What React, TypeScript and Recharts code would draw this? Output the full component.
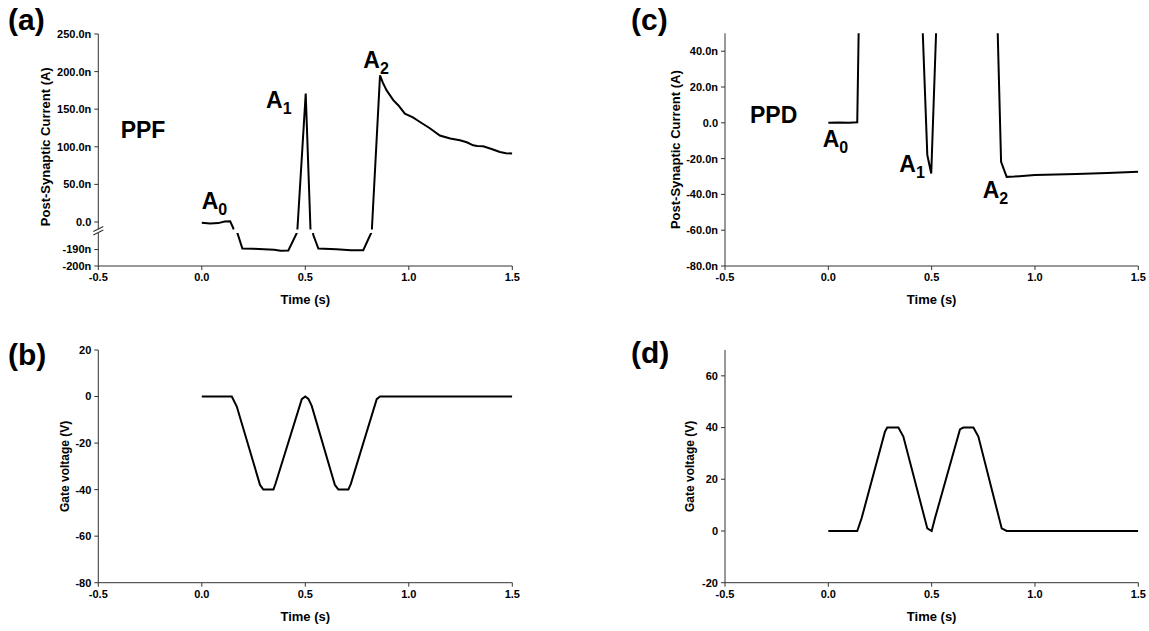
import { LineChart, Line, XAxis, YAxis, Label, ReferenceDot } from 'recharts';

const FONT = '"Liberation Sans", Arial, Helvetica, sans-serif';
const INK = '#000';
const AXIS = '#333';

// (a) PPF post-synaptic current, nA (axis is broken between -180n and -10n)
const ppfTime = [
  0, 0.04, 0.08, 0.11, 0.137, 0.152, 0.172, 0.196, 0.25, 0.3, 0.35, 0.38, 0.418, 0.459, 0.462,
  0.502, 0.525, 0.538, 0.563, 0.65, 0.72, 0.78, 0.818, 0.822, 0.861, 0.875, 0.893, 0.925, 0.95,
  0.981, 1.02, 1.054, 1.1, 1.15, 1.2, 1.247, 1.28, 1.311, 1.33, 1.359, 1.4, 1.44, 1.47, 1.5,
];
const ppfCurrent = [
  -1, -2, -1.5, 0.5, 1, -8, -180, -189.4, -189.6, -189.8, -190.2, -190.8, -190.6, -180, -9,
  170.7, -9, -181, -189.4, -189.8, -190.5, -190.4, -180, -8, 195, 185, 175, 162, 155,
  144, 139, 133, 125, 115, 111, 108.6, 106, 102, 101, 100.6, 97, 93, 91.5, 91,
];

// (b) PPF gate voltage, V
const ppfGateTime = [0, 0.145, 0.169, 0.281, 0.297, 0.346, 0.356, 0.483, 0.5, 0.515, 0.531, 0.643, 0.66, 0.708, 0.72, 0.845, 0.861, 1.5];
const ppfGate = [0, 0, -4.3, -37.9, -40, -40, -37.5, -1.1, 0, -1, -4, -38, -40, -40, -37.5, -1.1, 0, 0];

// (c) PPD post-synaptic current, nA (peaks run off the top of the axis)
const ppdTime = [0, 0.05, 0.1, 0.14, 0.148, 0.3, 0.45, 0.479, 0.498, 0.53, 0.67, 0.81, 0.836, 0.863, 0.9, 1.0, 1.2, 1.35, 1.5];
const ppdCurrent = [0, 0.2, 0, 0.3, 60, 85, 72, -18, -28.3, 79, 90, 93, -21.8, -30.2, -30, -29.2, -28.6, -28, -27.4];

// (d) PPD gate voltage, V
const ppdGateTime = [0, 0.14, 0.161, 0.274, 0.285, 0.339, 0.363, 0.479, 0.5, 0.516, 0.637, 0.653, 0.702, 0.726, 0.839, 0.863, 1.5];
const ppdGate = [0, 0, 4.9, 38.4, 40, 40, 36.5, 1, 0, 4.9, 39.3, 40, 40, 36.5, 1, 0, 0];

const timeTicks = [-0.5, 0, 0.5, 1, 1.5];
const ppfUpperTicks = [0, 50, 100, 150, 200, 250];
const ppfLowerTicks = [-200, -190];
const ppfGateTicks = [-80, -60, -40, -20, 0, 20];
const ppdTicks = [-80, -60, -40, -20, 0, 20, 40];
const ppdGateTicks = [-20, 0, 20, 40, 60];

const toRows = (t: number[], v: number[]) => t.map((x, i) => ({ t: x, v: v[i] }));

const ppfRows = toRows(ppfTime, ppfCurrent);
const ppfGateRows = toRows(ppfGateTime, ppfGate);
const ppdRows = toRows(ppdTime, ppdCurrent);
const ppdGateRows = toRows(ppdGateTime, ppdGate);

const tickStyle = { fontSize: 11, fontWeight: 700, fill: INK, fontFamily: FONT };
const titleStyle = { fontWeight: 700, fill: INK, fontFamily: FONT };

const fmtTime = (v: number) => v.toFixed(1);
const fmtNano = (v: number) => (v === 0 ? '0.0' : `${v.toFixed(1)}n`);

const axisCommon = {
  stroke: AXIS,
  tick: tickStyle,
  tickSize: 4,
  tickMargin: 3,
  interval: 0 as const,
  allowDataOverflow: true,
};

function timeAxis(labelOffset: number, height: number) {
  return (
    <XAxis
      {...axisCommon}
      type="number"
      dataKey="t"
      domain={[-0.5, 1.5]}
      ticks={timeTicks}
      tickFormatter={fmtTime}
      height={height}
    >
      <Label value="Time (s)" position="insideBottom" offset={labelOffset} style={{ ...titleStyle, fontSize: 13 }} />
    </XAxis>
  );
}

function trace() {
  return <Line type="linear" dataKey="v" stroke={INK} strokeWidth={2} dot={false} isAnimationActive={false} />;
}

// two short slashes where the PPF current axis is broken
function AxisBreak(props: any) {
  const { cx, cy } = props;
  if (cx == null || cy == null) return null;
  return (
    <g stroke={AXIS} strokeWidth={1.2}>
      <line x1={cx - 5} y1={cy + 2} x2={cx + 5} y2={cy - 3} />
      <line x1={cx - 5} y1={cy - 1.5} x2={cx + 5} y2={cy - 6.5} />
    </g>
  );
}

function Sub({ x, y, main, sub }: { x: number; y: number; main: string; sub: string }) {
  return (
    <text x={x} y={y} fontSize={23} fontWeight={700} fill={INK} fontFamily={FONT}>
      {main}
      <tspan fontSize={16} dy={6}>{sub}</tspan>
    </text>
  );
}

export default function App() {
  return (
    <div style={{ position: 'absolute', left: 0, top: 0, width: 1149, height: 631, background: '#fff', overflow: 'hidden' }}>
      {/* (a) upper part of broken axis */}
      <div style={{ position: 'absolute', left: 0, top: 0 }}>
        <LineChart width={540} height={240} data={ppfRows} margin={{ top: 34, right: 27.7, bottom: 10.5, left: 0 }}>
          <XAxis type="number" dataKey="t" domain={[-0.5, 1.5]} hide allowDataOverflow />
          <YAxis
            {...axisCommon}
            width={98.3}
            domain={[-10, 250]}
            ticks={ppfUpperTicks}
            tickFormatter={fmtNano}
          >
            <Label
              value="Post-Synaptic Current (A)"
              angle={-90}
              position="insideLeft"
              offset={45}
              dy={15}
              style={{ ...titleStyle, fontSize: 13, textAnchor: 'middle' }}
            />
          </YAxis>
          {trace()}
        </LineChart>
      </div>
      {/* (a) lower part of broken axis */}
      <div style={{ position: 'absolute', left: 0, top: 220 }}>
        <LineChart width={540} height={110} data={ppfRows} margin={{ top: 13, right: 27.7, bottom: 0, left: 0 }}>
          {timeAxis(26, 64)}
          <YAxis
            {...axisCommon}
            width={98.3}
            domain={[-200, -180]}
            ticks={ppfLowerTicks}
            tickFormatter={(v: number) => `${v}n`}
          />
          {trace()}
          <ReferenceDot x={-0.5} y={-180} ifOverflow="visible" shape={AxisBreak} />
        </LineChart>
      </div>
      {/* (b) */}
      <div style={{ position: 'absolute', left: 0, top: 320 }}>
        <LineChart width={540} height={311} data={ppfGateRows} margin={{ top: 30, right: 27.7, bottom: 0, left: 0 }}>
          {timeAxis(10.3, 48.3)}
          <YAxis {...axisCommon} width={98.3} domain={[-80, 20]} ticks={ppfGateTicks}>
            <Label
              value="Gate voltage (V)"
              angle={-90}
              position="insideLeft"
              offset={65}
              style={{ ...titleStyle, fontSize: 12, textAnchor: 'middle' }}
            />
          </YAxis>
          {trace()}
        </LineChart>
      </div>
      {/* (c) */}
      <div style={{ position: 'absolute', left: 620, top: 0 }}>
        <LineChart width={529} height={330} data={ppdRows} margin={{ top: 33.3, right: 10.7, bottom: 0, left: 0 }}>
          {timeAxis(26, 64)}
          <YAxis {...axisCommon} width={105} domain={[-80, 50]} ticks={ppdTicks} tickFormatter={fmtNano}>
            <Label
              value="Post-Synaptic Current (A)"
              angle={-90}
              position="insideLeft"
              offset={55}
              style={{ ...titleStyle, fontSize: 13, textAnchor: 'middle' }}
            />
          </YAxis>
          {trace()}
        </LineChart>
      </div>
      {/* (d) */}
      <div style={{ position: 'absolute', left: 620, top: 320 }}>
        <LineChart width={529} height={311} data={ppdGateRows} margin={{ top: 30, right: 10.7, bottom: 0, left: 0 }}>
          {timeAxis(10.3, 48.3)}
          <YAxis {...axisCommon} width={105} domain={[-20, 70]} ticks={ppdGateTicks}>
            <Label
              value="Gate voltage (V)"
              angle={-90}
              position="insideLeft"
              offset={69.3}
              style={{ ...titleStyle, fontSize: 12, textAnchor: 'middle' }}
            />
          </YAxis>
          {trace()}
        </LineChart>
      </div>
      {/* panel letters and annotations */}
      <svg width={1149} height={631} style={{ position: 'absolute', left: 0, top: 0, pointerEvents: 'none' }}>
        <g fontSize={30} fontWeight={700} fill={INK} fontFamily={FONT}>
          <text x={8} y={30}>(a)</text>
          <text x={8} y={365}>(b)</text>
          <text x={631} y={30}>(c)</text>
          <text x={631} y={363}>(d)</text>
        </g>
        <g fontSize={23} fontWeight={700} fill={INK} fontFamily={FONT}>
          <text x={120.7} y={138.3}>PPF</text>
          <text x={750} y={123.3}>PPD</text>
        </g>
        <Sub x={201.7} y={209.3} main="A" sub="0" />
        <Sub x={266} y={108} main="A" sub="1" />
        <Sub x={363.3} y={68.3} main="A" sub="2" />
        <Sub x={822.7} y={146.7} main="A" sub="0" />
        <Sub x={899.3} y={171.7} main="A" sub="1" />
        <Sub x={982.7} y={198.3} main="A" sub="2" />
      </svg>
    </div>
  );
}
